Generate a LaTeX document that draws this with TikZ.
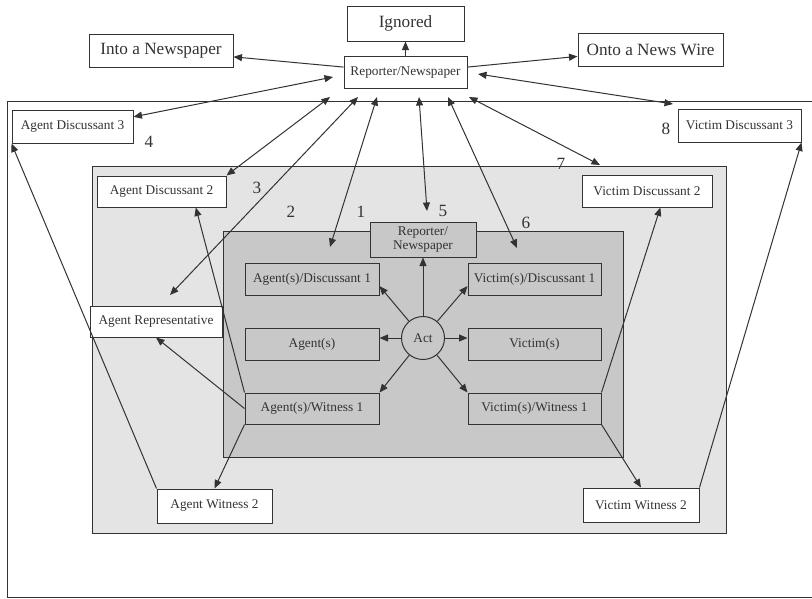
\documentclass[tikz,border=0pt]{standalone}
\usepackage{fontspec}
\setmainfont{Liberation Serif}
\usetikzlibrary{positioning,arrows.meta}

\definecolor{linec}{HTML}{333333}
\definecolor{outerc}{HTML}{E4E4E4}
\definecolor{innerc}{HTML}{C8C8C8}
\newcommand{\smallfnt}{\fontsize{13.3}{13.5}\selectfont}
\newcommand{\bigfnt}{\fontsize{17.2}{18}\selectfont}

\tikzset{
  box/.style={draw=linec, line width=1pt, rectangle, inner sep=1pt,
    minimum height=32pt, text=linec, font=\smallfnt},
  wbox/.style={box, fill=white},
  gbox/.style={box, fill=innerc},
  bigbox/.style={wbox, font=\bigfnt, minimum height=33pt},
  num/.style={font=\bigfnt, text=linec, inner sep=0pt},
  link/.style={draw=linec, line width=1pt}
}

\begin{document}
\begin{tikzpicture}[x=1pt, y=-1pt, node distance=2cm, on grid,
  >={Triangle[length=8.5pt,width=7pt]}]
\useasboundingbox (0,0) rectangle (812,598);
% frames
\draw[link] (813,101) -- (7,101) -- (7,597) -- (813,597);
\draw[link, fill=outerc] (92,166) rectangle (726,533);
\draw[link, fill=innerc] (223,231) rectangle (623,457);

% press
\node[wbox, minimum width=123pt] (rep) at (405.5,72.5) {Reporter/Newspaper};
\node[bigbox, minimum width=117pt, minimum height=35pt] (ign) [above=49pt of rep] {Ignored};
\node[bigbox, minimum width=144pt] (into) at (161,50.5) {Into a Newspaper};
\node[bigbox, minimum width=145pt] (onto) at (650.5,50) {Onto a News Wire};

% act and the inner boxes
\node[circle, draw=linec, line width=1pt, minimum size=43pt, inner sep=0pt,
  font=\smallfnt, text=linec] (act) at (423,338) {Act};
\node[gbox, minimum width=106pt, minimum height=35pt, align=center] (irep) [above=98.5pt of act] {Reporter/\\Newspaper};
\node[gbox, minimum width=134pt] (ad1) [above left=59pt and 111pt of act] {Agent(s)/Discussant 1};
\node[gbox, minimum width=134pt] (ag) [below left=6pt and 111pt of act] {Agent(s)};
\node[gbox, minimum width=134pt, minimum height=31pt] (aw1) [below left=70.5pt and 111pt of act] {Agent(s)/Witness 1};
\node[gbox, minimum width=133pt] (vd1) [above right=59pt and 111.5pt of act] {Victim(s)/Discussant 1};
\node[gbox, minimum width=133pt] (vic) [below right=6pt and 111.5pt of act] {Victim(s)};
\node[gbox, minimum width=133pt, minimum height=31pt] (vw1) [below right=70.5pt and 111.5pt of act] {Victim(s)/Witness 1};

% outer boxes
\node[wbox, minimum width=121pt, minimum height=33pt] (ad3) at (72.5,126.5) {Agent Discussant 3};
\node[wbox, minimum width=123pt, minimum height=33pt] (vd3) at (739.5,125.5) {Victim Discussant 3};
\node[wbox, minimum width=129pt, minimum height=31pt] (ad2) at (161.5,191.5) {Agent Discussant 2};
\node[wbox, minimum width=130pt] (vd2) at (647,191) {Victim Discussant 2};
\node[wbox, minimum width=132pt, minimum height=31pt] (arep) at (156,321.5) {Agent Representative};
\node[wbox, minimum width=115pt, minimum height=34pt] (aw2) at (214.5,506) {Agent Witness 2};
\node[wbox, minimum width=116pt, minimum height=34pt] (vw2) at (641,505) {Victim Witness 2};

% numbers
\node[num] (n1) at (361,212) {1};
\node[num] (n2) at (291,212) {2};
\node[num] (n3) at (257,188) {3};
\node[num] (n4) at (149,142) {4};
\node[num] (n5) at (443,211) {5};
\node[num] (n6) at (526,223) {6};
\node[num] (n7) at (561,164) {7};
\node[num] (n8) at (666,129) {8};

% free ends
\coordinate (fa) at (333,77);
\coordinate (fb) at (330,97);
\coordinate (fc) at (358,97);
\coordinate (fd) at (377,97);
\coordinate (fe) at (419,97);
\coordinate (ff) at (448,97);
\coordinate (fg) at (469,97);
\coordinate (fh) at (478,74);
\coordinate (fv) at (673,104);
\coordinate (ep) at (170,295);
\coordinate (e1) at (330,247);
\coordinate (e5) at (427,211);
\coordinate (e6) at (517,248);
\coordinate (ev) at (600,165);

% reporter outputs
\draw[link,->] (rep) -- (ign);
\draw[link,->] (rep.175) -- (into.-5);
\draw[link,->] (rep.5) -- (onto.185);

% two-way links to the reporter
\draw[link,<->] (ad3.9) -- (fa);
\draw[link,<->] (ad2.north east) -- (fb);
\draw[link,<->] (ep) -- (fc);
\draw[link,<->] (e1) -- (fd);
\draw[link,<->] (e5) -- (fe);
\draw[link,<->] (e6) -- (ff);
\draw[link,<->] (ev) -- (fg);
\draw[link,<->] (fv) -- (fh);

% witnesses
\draw[link,->] (aw1.north west) -- (ad2.-25);
\draw[link,->] (aw1.west) -- (arep.south);
\draw[link,->] (aw1.south west) -- (aw2.north);
\draw[link,->] (aw2.north west) -- (ad3.south west);
\draw[link,->] (vw1.north east) -- (vd2.-51);
\draw[link,->] (vw1.south east) -- (vw2.north);
\draw[link,->] (vw2.north east) -- (vd3.south east);

% from the act
\draw[link,->] (act) -- (irep);
\draw[link,->] (act) -- (ad1.-6);
\draw[link,->] (act.west) -- (act.west -| ag.east);
\draw[link,->] (act) -- (aw1.north east);
\draw[link,->] (act) -- (vd1.186);
\draw[link,->] (act.east) -- (act.east -| vic.west);
\draw[link,->] (act) -- (vw1.north west);
\end{tikzpicture}
\end{document}
